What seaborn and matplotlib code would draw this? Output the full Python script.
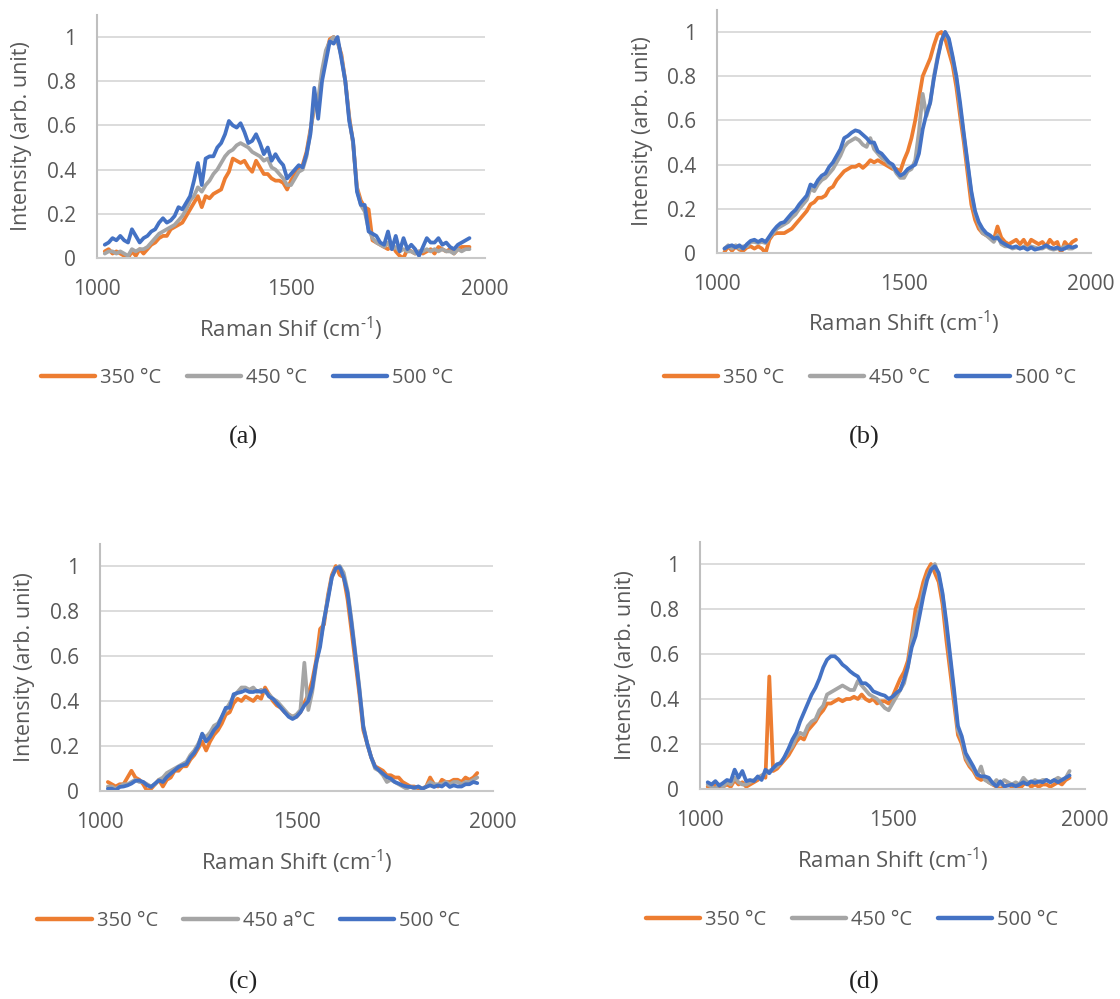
import matplotlib
matplotlib.use("Agg")
import matplotlib.pyplot as plt
import seaborn as sns
import pandas as pd

# ---------------- data ----------------
SHIFT = [1020, 1030, 1040, 1050, 1060, 1070, 1080, 1090, 1100, 1110,
         1120, 1130, 1140, 1150, 1160, 1170, 1180, 1190, 1200, 1210,
         1220, 1230, 1240, 1250, 1260, 1270, 1280, 1290, 1300, 1310,
         1320, 1330, 1340, 1350, 1360, 1370, 1380, 1390, 1400, 1410,
         1420, 1430, 1440, 1450, 1460, 1470, 1480, 1490, 1500, 1510,
         1520, 1530, 1540, 1550, 1560, 1570, 1580, 1590, 1600, 1610,
         1620, 1630, 1640, 1650, 1660, 1670, 1680, 1690, 1700, 1710,
         1720, 1730, 1740, 1750, 1760, 1770, 1780, 1790, 1800, 1810,
         1820, 1830, 1840, 1850, 1860, 1870, 1880, 1890, 1900, 1910,
         1920, 1930, 1940, 1950, 1960]

X_TICKS = [1000, 1500, 2000]
Y_TICKS = [0, 0.2, 0.4, 0.6, 0.8, 1.0]
Y_TICK_LABELS = ["0", "0.2", "0.4", "0.6", "0.8", "1"]

# panel (a)
A_350 = [0.03, 0.04, 0.02, 0.03, 0.02, 0.01, 0.00, 0.03, 0.01, 0.04,
         0.02, 0.04, 0.06, 0.07, 0.09, 0.10, 0.10, 0.13, 0.14, 0.15,
         0.16, 0.19, 0.22, 0.25, 0.28, 0.23, 0.28, 0.27, 0.29, 0.30,
         0.31, 0.36, 0.39, 0.45, 0.44, 0.43, 0.44, 0.41, 0.39, 0.44,
         0.41, 0.38, 0.38, 0.36, 0.35, 0.35, 0.34, 0.31, 0.35, 0.38,
         0.41, 0.42, 0.48, 0.58, 0.68, 0.70, 0.82, 0.92, 0.99, 1.00,
         0.98, 0.92, 0.80, 0.64, 0.52, 0.32, 0.26, 0.23, 0.22, 0.08,
         0.07, 0.06, 0.05, 0.04, 0.06, 0.03, 0.01, 0.00, 0.04, 0.03,
         0.02, 0.03, 0.02, 0.03, 0.04, 0.02, 0.05, 0.04, 0.03, 0.04,
         0.02, 0.04, 0.05, 0.05, 0.05]
A_450 = [0.02, 0.03, 0.03, 0.02, 0.03, 0.02, 0.01, 0.04, 0.03, 0.04,
         0.04, 0.05, 0.07, 0.09, 0.11, 0.12, 0.13, 0.14, 0.15, 0.17,
         0.19, 0.22, 0.26, 0.28, 0.32, 0.30, 0.33, 0.35, 0.38, 0.40,
         0.43, 0.46, 0.48, 0.49, 0.51, 0.52, 0.51, 0.50, 0.48, 0.47,
         0.46, 0.44, 0.45, 0.41, 0.40, 0.38, 0.36, 0.33, 0.33, 0.36,
         0.39, 0.40, 0.46, 0.57, 0.70, 0.72, 0.85, 0.94, 0.98, 1.00,
         0.98, 0.91, 0.80, 0.63, 0.52, 0.31, 0.24, 0.21, 0.13, 0.09,
         0.07, 0.06, 0.05, 0.07, 0.04, 0.05, 0.03, 0.04, 0.03, 0.03,
         0.02, 0.03, 0.03, 0.04, 0.03, 0.04, 0.03, 0.04, 0.03, 0.03,
         0.02, 0.04, 0.03, 0.04, 0.04]
A_500 = [0.06, 0.07, 0.09, 0.08, 0.10, 0.08, 0.07, 0.13, 0.10, 0.07,
         0.09, 0.10, 0.12, 0.13, 0.16, 0.18, 0.16, 0.17, 0.19, 0.23,
         0.22, 0.25, 0.28, 0.35, 0.43, 0.33, 0.45, 0.46, 0.46, 0.50,
         0.52, 0.56, 0.62, 0.60, 0.59, 0.61, 0.57, 0.52, 0.53, 0.56,
         0.52, 0.47, 0.50, 0.44, 0.47, 0.44, 0.42, 0.36, 0.38, 0.40,
         0.42, 0.41, 0.47, 0.56, 0.77, 0.63, 0.80, 0.89, 0.98, 0.97,
         1.00, 0.90, 0.80, 0.62, 0.53, 0.30, 0.24, 0.24, 0.12, 0.11,
         0.10, 0.07, 0.06, 0.12, 0.04, 0.10, 0.03, 0.09, 0.04, 0.06,
         0.04, 0.01, 0.05, 0.09, 0.07, 0.07, 0.09, 0.06, 0.07, 0.05,
         0.04, 0.06, 0.07, 0.08, 0.09]

# panel (b)
B_350 = [0.005, 0.03, 0.01, 0.03, 0.015, 0.01, 0.025, 0.03, 0.02, 0.03,
         0.02, 0.00, 0.06, 0.085, 0.09, 0.09, 0.09, 0.10, 0.11, 0.13,
         0.15, 0.17, 0.19, 0.22, 0.23, 0.25, 0.25, 0.26, 0.29, 0.30,
         0.33, 0.35, 0.37, 0.38, 0.39, 0.39, 0.40, 0.385, 0.40, 0.42,
         0.41, 0.42, 0.41, 0.40, 0.39, 0.38, 0.38, 0.37, 0.42, 0.46,
         0.52, 0.60, 0.70, 0.80, 0.84, 0.88, 0.94, 0.99, 1.00, 0.97,
         0.91, 0.85, 0.75, 0.62, 0.50, 0.36, 0.22, 0.15, 0.11, 0.09,
         0.08, 0.07, 0.06, 0.12, 0.07, 0.05, 0.04, 0.05, 0.06, 0.04,
         0.06, 0.03, 0.06, 0.05, 0.04, 0.05, 0.03, 0.06, 0.04, 0.05,
         0.00, 0.05, 0.03, 0.05, 0.06]
B_450 = [0.02, 0.035, 0.02, 0.035, 0.02, 0.03, 0.03, 0.05, 0.05, 0.045,
         0.05, 0.045, 0.07, 0.09, 0.11, 0.12, 0.13, 0.14, 0.16, 0.175,
         0.20, 0.22, 0.24, 0.29, 0.28, 0.31, 0.33, 0.34, 0.36, 0.38,
         0.41, 0.44, 0.48, 0.50, 0.51, 0.52, 0.51, 0.49, 0.48, 0.52,
         0.47, 0.45, 0.43, 0.42, 0.40, 0.39, 0.36, 0.34, 0.34, 0.37,
         0.38, 0.42, 0.55, 0.72, 0.62, 0.68, 0.80, 0.89, 0.96, 1.00,
         0.96, 0.88, 0.79, 0.66, 0.53, 0.40, 0.27, 0.18, 0.13, 0.09,
         0.08, 0.065, 0.05, 0.08, 0.04, 0.03, 0.03, 0.02, 0.025, 0.02,
         0.03, 0.02, 0.03, 0.025, 0.02, 0.02, 0.03, 0.02, 0.015, 0.02,
         0.02, 0.03, 0.02, 0.02, 0.03]
B_500 = [0.02, 0.03, 0.035, 0.025, 0.035, 0.02, 0.04, 0.055, 0.06, 0.05,
         0.06, 0.05, 0.075, 0.10, 0.12, 0.135, 0.14, 0.16, 0.18, 0.195,
         0.22, 0.24, 0.26, 0.31, 0.30, 0.33, 0.35, 0.36, 0.39, 0.41,
         0.44, 0.47, 0.52, 0.53, 0.545, 0.555, 0.55, 0.535, 0.52, 0.50,
         0.50, 0.46, 0.45, 0.43, 0.41, 0.40, 0.37, 0.35, 0.36, 0.38,
         0.39, 0.40, 0.45, 0.56, 0.63, 0.68, 0.79, 0.88, 0.96, 1.00,
         0.97, 0.89, 0.80, 0.68, 0.54, 0.41, 0.28, 0.19, 0.14, 0.11,
         0.09, 0.08, 0.065, 0.07, 0.05, 0.04, 0.03, 0.025, 0.03, 0.02,
         0.025, 0.015, 0.025, 0.015, 0.02, 0.025, 0.035, 0.025, 0.02, 0.025,
         0.015, 0.02, 0.03, 0.025, 0.03]

# panel (c)
C_350 = [0.04, 0.03, 0.02, 0.03, 0.03, 0.06, 0.09, 0.06, 0.05, 0.03,
         0.00, 0.01, 0.03, 0.05, 0.02, 0.05, 0.06, 0.09, 0.09, 0.11,
         0.11, 0.14, 0.16, 0.19, 0.22, 0.18, 0.22, 0.25, 0.27, 0.30,
         0.34, 0.35, 0.39, 0.41, 0.40, 0.42, 0.41, 0.40, 0.42, 0.41,
         0.46, 0.43, 0.40, 0.38, 0.37, 0.35, 0.34, 0.33, 0.33, 0.35,
         0.39, 0.43, 0.49, 0.58, 0.72, 0.74, 0.87, 0.96, 1.00, 0.96,
         0.95, 0.85, 0.71, 0.57, 0.43, 0.27, 0.21, 0.15, 0.11, 0.10,
         0.09, 0.07, 0.07, 0.06, 0.06, 0.04, 0.03, 0.02, 0.02, 0.01,
         0.01, 0.02, 0.06, 0.03, 0.02, 0.05, 0.04, 0.04, 0.05, 0.05,
         0.04, 0.06, 0.05, 0.06, 0.08]
C_450 = [0.02, 0.02, 0.01, 0.02, 0.03, 0.03, 0.04, 0.05, 0.04, 0.04,
         0.03, 0.02, 0.03, 0.05, 0.06, 0.08, 0.09, 0.10, 0.11, 0.12,
         0.13, 0.16, 0.18, 0.21, 0.25, 0.24, 0.26, 0.29, 0.30, 0.33,
         0.36, 0.39, 0.42, 0.44, 0.46, 0.46, 0.45, 0.46, 0.44, 0.45,
         0.44, 0.43, 0.41, 0.40, 0.38, 0.36, 0.34, 0.33, 0.34, 0.36,
         0.57, 0.36, 0.44, 0.56, 0.66, 0.76, 0.86, 0.95, 0.99, 1.00,
         0.97, 0.89, 0.76, 0.61, 0.46, 0.29, 0.21, 0.15, 0.10, 0.09,
         0.07, 0.04, 0.05, 0.04, 0.03, 0.02, 0.01, 0.02, 0.01, 0.02,
         0.01, 0.02, 0.04, 0.03, 0.03, 0.03, 0.04, 0.03, 0.04, 0.04,
         0.03, 0.04, 0.04, 0.05, 0.06]
C_500 = [0.01, 0.01, 0.003, 0.018, 0.02, 0.025, 0.033, 0.045, 0.047, 0.04,
         0.025, 0.018, 0.033, 0.047, 0.04, 0.062, 0.077, 0.092, 0.107, 0.114,
         0.12, 0.15, 0.17, 0.20, 0.255, 0.22, 0.24, 0.27, 0.29, 0.33,
         0.37, 0.37, 0.43, 0.436, 0.44, 0.448, 0.44, 0.44, 0.445, 0.44,
         0.448, 0.42, 0.41, 0.39, 0.37, 0.35, 0.33, 0.32, 0.33, 0.35,
         0.38, 0.40, 0.46, 0.57, 0.64, 0.76, 0.85, 0.95, 0.99, 0.995,
         0.95, 0.88, 0.745, 0.60, 0.45, 0.285, 0.21, 0.15, 0.107, 0.092,
         0.077, 0.062, 0.055, 0.04, 0.033, 0.025, 0.02, 0.018, 0.015, 0.02,
         0.01, 0.018, 0.025, 0.018, 0.025, 0.02, 0.033, 0.018, 0.025, 0.02,
         0.02, 0.03, 0.03, 0.04, 0.035]

# panel (d)
D_350 = [0.01, 0.00, 0.02, 0.00, 0.01, 0.02, 0.01, 0.04, 0.02, 0.03,
         0.01, 0.02, 0.03, 0.04, 0.06, 0.05, 0.50, 0.08, 0.09, 0.11,
         0.13, 0.15, 0.18, 0.21, 0.23, 0.22, 0.26, 0.28, 0.30, 0.33,
         0.35, 0.38, 0.38, 0.39, 0.40, 0.39, 0.40, 0.40, 0.41, 0.40,
         0.42, 0.40, 0.39, 0.40, 0.38, 0.39, 0.39, 0.38, 0.41, 0.45,
         0.49, 0.52, 0.57, 0.68, 0.80, 0.85, 0.92, 0.97, 1.00, 0.96,
         0.92, 0.82, 0.66, 0.52, 0.38, 0.24, 0.20, 0.13, 0.10, 0.08,
         0.05, 0.04, 0.05, 0.03, 0.02, 0.01, 0.00, 0.01, 0.02, 0.01,
         0.02, 0.00, 0.02, 0.03, 0.01, 0.02, 0.01, 0.02, 0.02, 0.01,
         0.02, 0.03, 0.02, 0.04, 0.05]
D_450 = [0.02, 0.01, 0.00, 0.02, 0.01, 0.03, 0.02, 0.05, 0.03, 0.02,
         0.02, 0.03, 0.04, 0.05, 0.06, 0.07, 0.08, 0.09, 0.10, 0.12,
         0.14, 0.17, 0.19, 0.23, 0.25, 0.24, 0.28, 0.30, 0.31, 0.35,
         0.37, 0.42, 0.43, 0.44, 0.45, 0.46, 0.45, 0.44, 0.44, 0.48,
         0.46, 0.44, 0.42, 0.41, 0.40, 0.38, 0.36, 0.35, 0.38, 0.41,
         0.44, 0.47, 0.54, 0.66, 0.74, 0.80, 0.88, 0.94, 0.98, 1.00,
         0.95, 0.86, 0.72, 0.57, 0.42, 0.26, 0.22, 0.14, 0.11, 0.09,
         0.06, 0.10, 0.04, 0.03, 0.02, 0.04, 0.02, 0.04, 0.03, 0.02,
         0.03, 0.02, 0.05, 0.03, 0.03, 0.04, 0.03, 0.04, 0.04, 0.03,
         0.04, 0.05, 0.04, 0.05, 0.08]
D_500 = [0.03, 0.02, 0.035, 0.015, 0.027, 0.04, 0.035, 0.086, 0.05, 0.08,
         0.035, 0.04, 0.035, 0.056, 0.04, 0.086, 0.07, 0.093, 0.11, 0.115,
         0.145, 0.18, 0.22, 0.25, 0.30, 0.34, 0.38, 0.42, 0.45, 0.49,
         0.54, 0.575, 0.59, 0.59, 0.575, 0.553, 0.54, 0.523, 0.51, 0.50,
         0.47, 0.47, 0.456, 0.434, 0.427, 0.42, 0.415, 0.40, 0.41, 0.427,
         0.44, 0.486, 0.545, 0.63, 0.68, 0.767, 0.856, 0.93, 0.975, 0.99,
         0.96, 0.87, 0.74, 0.59, 0.44, 0.28, 0.234, 0.16, 0.13, 0.10,
         0.064, 0.056, 0.056, 0.05, 0.027, 0.012, 0.034, 0.012, 0.015, 0.02,
         0.012, 0.02, 0.03, 0.02, 0.034, 0.027, 0.034, 0.03, 0.04, 0.03,
         0.04, 0.03, 0.04, 0.05, 0.06]

LEGEND_STD = ["350 °C", "450 °C", "500 °C"]
LEGEND_C = ["350 °C", "450 a°C", "500 °C"]
XLABEL_A = r"Raman Shif (cm$^{\text{-1}}$)"
XLABEL = r"Raman Shift (cm$^{\text{-1}}$)"
YLABEL = "Intensity (arb. unit)"
CAPTIONS = ["(a)", "(b)", "(c)", "(d)"]

# ---------------- style ----------------
COLORS = ["#ED7D31", "#A5A5A5", "#4472C4"]
TEXT = "#595959"
W, H = 1120, 999

sns.set_theme(style="white")
plt.rcParams["font.family"] = ["Open Sans", "DejaVu Sans"]
plt.rcParams["mathtext.fontset"] = "custom"
plt.rcParams["mathtext.rm"] = "Open Sans"
plt.rcParams["mathtext.default"] = "regular"

fig = plt.figure(figsize=(W / 100, H / 100), dpi=100)
fig.patch.set_facecolor("white")

panels = [
    dict(series=[A_350, A_450, A_500], labels=LEGEND_STD, xlabel=XLABEL_A,
         l=97, r=485, y0=258, y1=37, ylx=22, xly=329, leg=(247, 378), cap=(243, 437)),
    dict(series=[B_350, B_450, B_500], labels=LEGEND_STD, xlabel=XLABEL,
         l=717, r=1091, y0=253, y1=32, ylx=643, xly=323, leg=(870, 378), cap=(864, 437)),
    dict(series=[C_350, C_450, C_500], labels=LEGEND_C, xlabel=XLABEL,
         l=100, r=493, y0=791, y1=566, ylx=25, xly=862, leg=(249, 921), cap=(244, 982)),
    dict(series=[D_350, D_450, D_500], labels=LEGEND_STD, xlabel=XLABEL,
         l=700, r=1085, y0=789, y1=564, ylx=625, xly=860, leg=(852, 920), cap=(864, 982)),
]

YMAX = 1.1
for p, cap in zip(panels, CAPTIONS):
    unit = p["y0"] - p["y1"]
    h_px = unit * YMAX
    ax = fig.add_axes([p["l"] / W, 1 - p["y0"] / H, (p["r"] - p["l"]) / W, h_px / H])
    for vals, lab, col in zip(p["series"], p["labels"], COLORS):
        df = pd.DataFrame({"shift": SHIFT, "intensity": vals})
        sns.lineplot(data=df, x="shift", y="intensity", ax=ax, color=col,
                     linewidth=2.7, label=lab, estimator=None, sort=False)
    ax.set_xlim(1000, 2000)
    ax.set_ylim(0, YMAX)
    ax.set_xticks(X_TICKS)
    ax.set_xticklabels([str(t) for t in X_TICKS])
    ax.set_yticks(Y_TICKS)
    ax.set_yticklabels(Y_TICK_LABELS)
    ax.tick_params(axis="both", length=0, labelsize=15, labelcolor=TEXT, pad=15)
    ax.yaxis.grid(True, color="#D9D9D9", linewidth=1.3)
    ax.xaxis.grid(False)
    ax.set_axisbelow(True)
    for s in ["top", "right"]:
        ax.spines[s].set_visible(False)
    ax.spines["left"].set_color("#BFBFBF")
    ax.spines["left"].set_linewidth(1.5)
    ax.spines["bottom"].set_color("#C8C8C8")
    ax.spines["bottom"].set_linewidth(1.5)

    ax.set_xlabel(p["xlabel"], fontsize=16, color=TEXT)
    ax.xaxis.set_label_coords(0.5, (p["y0"] - p["xly"]) / h_px)
    ax.xaxis.label.set_va("center")
    ax.set_ylabel(YLABEL, fontsize=15.5, color=TEXT)
    ax.yaxis.set_label_coords((p["ylx"] - p["l"]) / (p["r"] - p["l"]), 0.5)
    ax.yaxis.label.set_va("center")

    leg = ax.legend(loc="center", bbox_to_anchor=(p["leg"][0] / W, 1 - p["leg"][1] / H),
                    bbox_transform=fig.transFigure, ncol=3, frameon=False,
                    fontsize=14.5, handlelength=2.7, handletextpad=0.25,
                    columnspacing=1.25)
    for t in leg.get_texts():
        t.set_color(TEXT)
    for ln in leg.get_lines():
        ln.set_linewidth(3.2)

    fig.text(p["cap"][0] / W, 1 - p["cap"][1] / H, cap, ha="center", va="center",
             fontsize=19, color="#222222", family=["Liberation Serif", "DejaVu Serif"])

fig.savefig("out.png", dpi=100, facecolor="white")
